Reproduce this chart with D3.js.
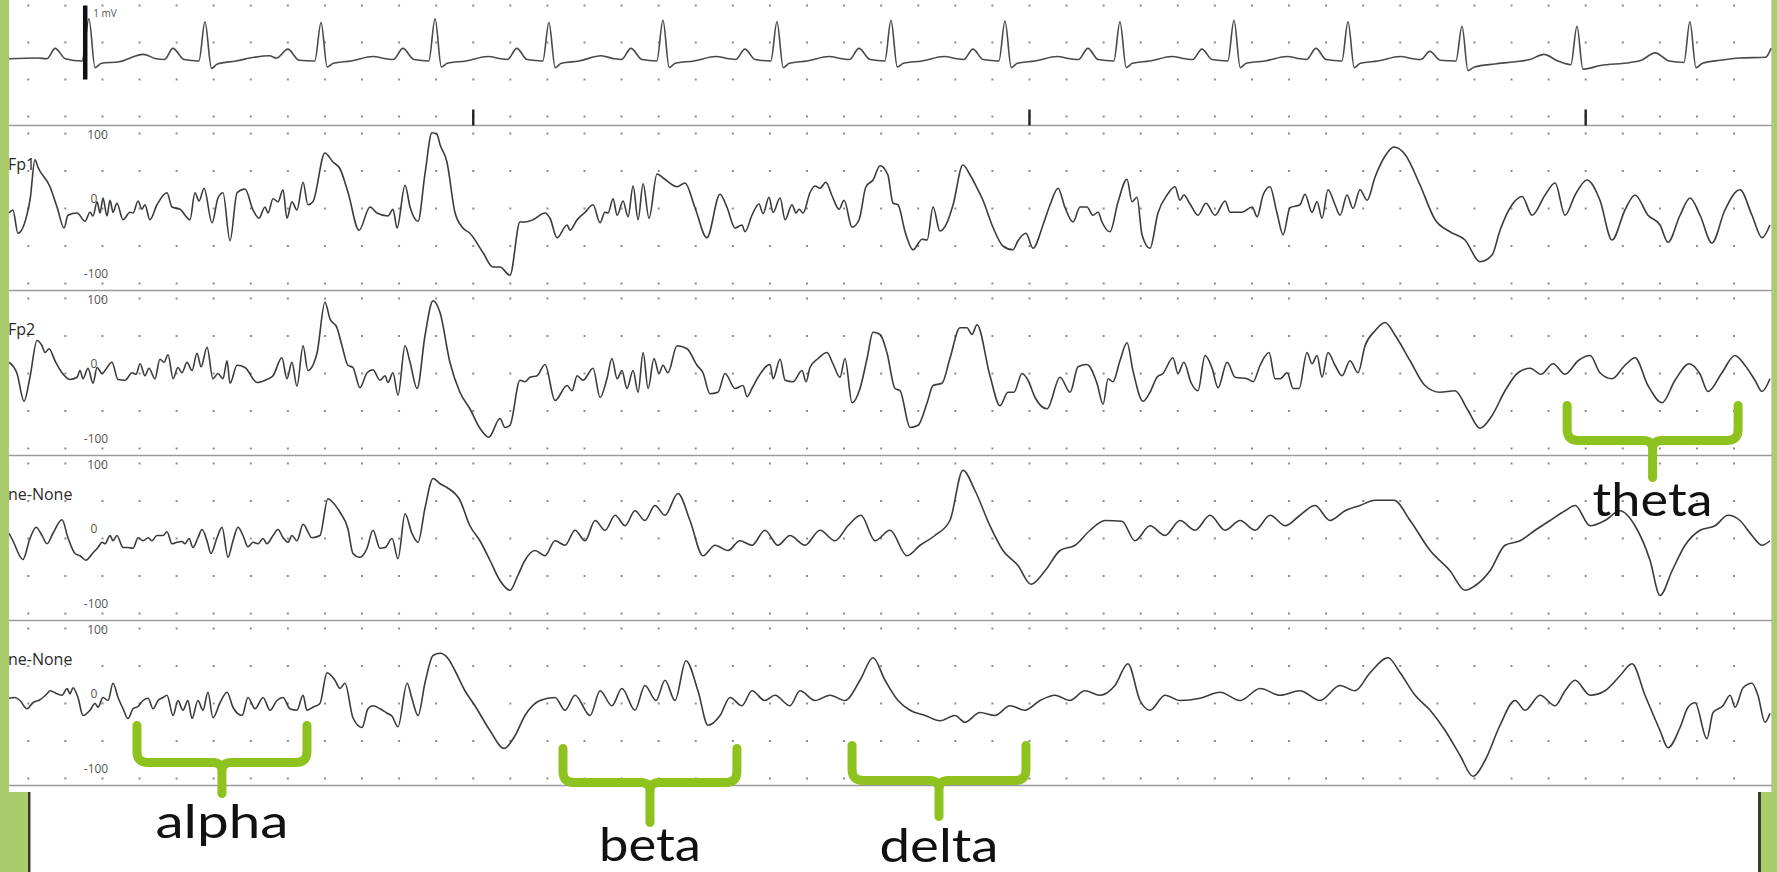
<!DOCTYPE html>
<html>
<head>
<meta charset="utf-8">
<script src="https://cdn.jsdelivr.net/npm/d3@7"></script>
<style>
  body { margin: 0; background: #fff; overflow: hidden; }
</style>
</head>
<body>
<svg id="chart" width="1777" height="872"></svg>
<script>
// ---- data (time in s, EEG in µV, ECG in mV) ----
const channelNames = ["Fp1", "Fp2", "ne-None", "ne-None"];
const scaleLabels = [100, 0, -100];
const markerTimes = [2.4, 5.4, 8.4];
const calibration = { t: 0.307, from: -0.25, to: 0.75, label: "1 mV" };

const ecgTrace = [
  [-0.104,0.03],[0.05,0.04],[0.10,0.03],[0.145,0.17],[0.20,0.03],[0.29,0.00],
  [0.327,0.57],[0.360,-0.09],[0.395,-0.03],[0.49,-0.01],[0.62,0.09],[0.69,0.03],[0.735,0.02],[0.78,0.17],[0.84,0.02],[0.92,0.00],
  [0.953,0.53],[0.988,-0.10],[1.02,-0.04],[1.12,0.00],[1.22,0.05],[1.30,0.07],[1.34,0.04],[1.40,0.16],[1.46,0.01],[1.545,0.00],
  [1.579,0.52],[1.612,-0.08],[1.645,-0.03],[1.74,0.00],[1.86,0.06],[1.93,0.03],[1.97,0.02],[2.02,0.17],[2.08,0.02],[2.16,0.00],
  [2.194,0.57],[2.228,-0.08],[2.26,-0.03],[2.36,0.00],[2.48,0.06],[2.55,0.03],[2.585,0.02],[2.635,0.17],[2.69,0.02],[2.775,0.00],
  [2.808,0.52],[2.842,-0.09],[2.875,-0.03],[2.97,0.00],[3.09,0.07],[3.16,0.03],[3.20,0.02],[3.25,0.17],[3.31,0.02],[3.39,0.00],
  [3.423,0.55],[3.457,-0.09],[3.49,-0.03],[3.59,0.00],[3.71,0.06],[3.78,0.03],[3.815,0.02],[3.865,0.16],[3.92,0.02],[4.005,0.00],
  [4.038,0.53],[4.072,-0.09],[4.105,-0.03],[4.20,0.00],[4.32,0.06],[4.39,0.03],[4.43,0.02],[4.48,0.17],[4.54,0.02],[4.62,0.00],
  [4.653,0.55],[4.687,-0.08],[4.72,-0.03],[4.82,0.00],[4.94,0.06],[5.01,0.03],[5.045,0.02],[5.095,0.16],[5.15,0.02],[5.235,0.00],
  [5.268,0.54],[5.302,-0.09],[5.335,-0.03],[5.43,0.00],[5.55,0.06],[5.62,0.03],[5.665,0.02],[5.715,0.17],[5.77,0.02],[5.855,0.00],
  [5.888,0.53],[5.922,-0.09],[5.955,-0.03],[6.05,0.00],[6.17,0.06],[6.24,0.03],[6.28,0.02],[6.33,0.16],[6.385,0.02],[6.47,0.00],
  [6.503,0.55],[6.537,-0.09],[6.57,-0.03],[6.67,0.00],[6.79,0.06],[6.86,0.03],[6.895,0.02],[6.945,0.17],[7.00,0.02],[7.085,0.00],
  [7.118,0.53],[7.152,-0.09],[7.185,-0.03],[7.28,0.00],[7.40,0.06],[7.47,0.03],[7.51,0.02],[7.56,0.13],[7.615,0.01],[7.70,0.00],
  [7.733,0.47],[7.765,-0.13],[7.80,-0.08],[7.91,-0.04],[8.02,-0.01],[8.10,0.02],[8.175,0.09],[8.25,0.00],[8.32,-0.05],
  [8.353,0.47],[8.385,-0.11],[8.48,-0.06],[8.64,-0.02],[8.70,0.01],[8.775,0.11],[8.85,0.00],[8.93,-0.02],
  [8.962,0.53],[8.995,-0.09],[9.03,-0.03],[9.125,0.01],[9.23,0.04],[9.37,0.05],[9.40,0.17]
];

const fp1Trace = [
  [-0.104,-6],[-0.083,-2],[-0.056,-33],[0.009,11],[0.036,65],[0.052,55],[0.117,29],[0.155,2],[0.193,-26],[0.214,-9],
  [0.263,-6],[0.306,-17],[0.333,-5],[0.349,-10],[0.371,9],[0.387,-6],[0.403,14],[0.424,-10],[0.441,11],[0.457,-5],
  [0.478,7],[0.511,-15],[0.549,-5],[0.565,-6],[0.592,10],[0.613,-1],[0.629,5],[0.656,-15],[0.694,5],[0.748,21],
  [0.775,2],[0.818,-1],[0.872,-15],[0.899,21],[0.921,10],[0.948,27],[0.991,-19],[1.023,14],[1.050,21],[1.088,-43],
  [1.126,21],[1.169,26],[1.212,-2],[1.244,-13],[1.277,2],[1.293,-6],[1.320,13],[1.347,9],[1.374,25],[1.395,-13],
  [1.422,9],[1.449,-2],[1.482,35],[1.508,5],[1.535,9],[1.600,74],[1.643,62],[1.681,53],[1.724,22],[1.784,-29],
  [1.843,2],[1.881,-6],[1.940,-10],[1.967,-1],[1.989,-26],[2.032,31],[2.059,2],[2.102,-17],[2.140,47],[2.177,101],
  [2.204,99],[2.221,85],[2.258,62],[2.301,-5],[2.344,-26],[2.382,-33],[2.453,-59],[2.506,-78],[2.544,-78],[2.598,-89],
  [2.652,-18],[2.679,-18],[2.722,-15],[2.787,-6],[2.814,-13],[2.852,-39],[2.906,-22],[2.922,-29],[2.960,-15],[3.003,-5],
  [3.046,5],[3.084,-19],[3.110,-5],[3.127,-6],[3.154,13],[3.176,-9],[3.208,10],[3.235,-11],[3.262,30],[3.289,-15],
  [3.316,33],[3.348,-13],[3.391,46],[3.423,41],[3.499,29],[3.542,34],[3.596,1],[3.660,-39],[3.731,19],[3.768,2],
  [3.812,-26],[3.849,-22],[3.866,-31],[3.903,-9],[3.941,6],[3.963,-7],[3.995,15],[4.017,-5],[4.055,14],[4.082,-15],
  [4.119,5],[4.141,-6],[4.157,-1],[4.179,-6],[4.216,21],[4.243,30],[4.270,27],[4.302,35],[4.335,17],[4.373,-1],
  [4.400,11],[4.443,-25],[4.481,-15],[4.518,29],[4.556,38],[4.594,57],[4.636,45],[4.664,7],[4.691,5],[4.729,-31],
  [4.772,-55],[4.821,-41],[4.848,-42],[4.880,2],[4.917,-30],[4.955,-19],[4.988,5],[5.041,58],[5.079,45],[5.122,25],
  [5.149,11],[5.203,-25],[5.257,-50],[5.311,-55],[5.338,-43],[5.381,-33],[5.419,-53],[5.473,-22],[5.511,5],[5.554,27],
  [5.592,1],[5.635,-18],[5.673,2],[5.710,2],[5.742,-9],[5.770,-5],[5.791,-18],[5.834,-31],[5.878,9],[5.926,39],
  [5.953,9],[5.980,15],[6.007,-35],[6.050,-53],[6.093,-6],[6.142,18],[6.185,29],[6.212,11],[6.233,18],[6.266,6],
  [6.309,-9],[6.352,7],[6.401,-9],[6.455,10],[6.482,-5],[6.546,-5],[6.601,2],[6.628,-11],[6.660,18],[6.697,29],
  [6.735,-6],[6.768,-35],[6.805,1],[6.859,5],[6.886,19],[6.924,-5],[6.951,9],[6.978,-13],[7.010,25],
  [7.048,5],[7.075,-9],[7.113,18],[7.145,0],[7.183,25],[7.221,11],[7.264,42],[7.318,70],[7.366,82],[7.426,72],
  [7.507,31],[7.588,-15],[7.668,-31],[7.749,-42],[7.830,-71],[7.895,-62],[7.938,-29],[8.003,5],[8.057,16],[8.111,-9],
  [8.181,18],[8.235,34],[8.289,-9],[8.343,18],[8.407,38],[8.477,11],[8.542,-42],[8.612,-2],[8.666,18],[8.736,-9],
  [8.801,-22],[8.844,-45],[8.909,-9],[8.963,14],[9.017,-9],[9.081,-46],[9.151,-2],[9.232,25],[9.297,-9],[9.351,-39],[9.394,-22]
];

const fp2Trace = [
  [-0.104,15],[-0.061,0],[-0.023,-37],[0.009,-5],[0.047,44],[0.074,37],[0.090,28],[0.112,33],[0.144,17],[0.182,1],
  [0.225,-8],[0.263,-5],[0.279,4],[0.295,-7],[0.322,7],[0.349,-13],[0.371,8],[0.398,0],[0.414,4],[0.451,15],
  [0.484,-8],[0.522,-9],[0.560,1],[0.581,-1],[0.603,13],[0.629,-3],[0.651,7],[0.683,-7],[0.710,19],[0.732,15],
  [0.754,25],[0.781,-7],[0.807,8],[0.829,1],[0.856,15],[0.883,4],[0.910,27],[0.932,9],[0.964,35],[0.996,-7],
  [1.023,0],[1.050,-7],[1.072,17],[1.088,-13],[1.126,11],[1.169,8],[1.234,-12],[1.287,-8],[1.320,-3],[1.368,21],
  [1.395,-7],[1.422,15],[1.449,-17],[1.482,37],[1.508,4],[1.557,27],[1.600,95],[1.627,73],[1.665,61],[1.692,37],
  [1.724,11],[1.751,8],[1.789,-19],[1.827,1],[1.859,5],[1.897,-9],[1.924,-3],[1.940,-12],[1.967,1],[1.994,-29],
  [2.032,37],[2.059,15],[2.097,-20],[2.140,51],[2.183,97],[2.221,81],[2.274,15],[2.328,-25],[2.382,-47],[2.436,-73],
  [2.484,-85],[2.544,-60],[2.571,-72],[2.598,-69],[2.652,-9],[2.679,-11],[2.706,-5],[2.744,-3],[2.787,12],[2.841,-36],
  [2.906,-16],[2.933,-23],[2.960,-3],[2.992,-9],[3.046,7],[3.084,-32],[3.121,-7],[3.148,20],[3.176,-7],[3.202,4],
  [3.229,-20],[3.262,4],[3.289,-25],[3.316,28],[3.343,-20],[3.375,20],[3.402,0],[3.423,11],[3.450,1],[3.499,37],
  [3.553,33],[3.607,11],[3.639,1],[3.677,-27],[3.720,-25],[3.758,0],[3.812,-20],[3.855,-16],[3.877,-31],[3.903,-20],
  [3.936,-5],[4.001,12],[4.017,-7],[4.055,19],[4.082,-9],[4.125,-11],[4.173,4],[4.195,-11],[4.216,8],[4.260,20],
  [4.308,28],[4.340,13],[4.378,-5],[4.405,20],[4.443,-39],[4.486,-20],[4.524,20],[4.556,55],[4.594,52],[4.631,28],
  [4.675,-20],[4.702,-23],[4.756,-72],[4.799,-69],[4.848,-39],[4.880,-16],[4.928,-13],[4.971,20],[5.025,61],[5.063,61],
  [5.090,52],[5.117,65],[5.187,-3],[5.241,-43],[5.284,-25],[5.316,-25],[5.360,0],[5.392,-9],[5.430,-32],[5.495,-47],
  [5.565,-5],[5.619,-25],[5.662,9],[5.710,12],[5.764,-13],[5.797,-41],[5.824,-7],[5.850,-11],[5.888,17],[5.926,41],
  [5.958,4],[6.012,-37],[6.050,-25],[6.088,-5],[6.120,0],[6.174,21],[6.201,0],[6.233,15],[6.271,-12],[6.309,-23],
  [6.347,24],[6.385,7],[6.417,-19],[6.466,15],[6.509,-5],[6.574,-7],[6.606,-11],[6.644,11],[6.692,28],[6.725,-7],
  [6.752,-7],[6.790,1],[6.822,-20],[6.854,-20],[6.897,28],[6.924,13],[6.951,24],[6.978,-5],[7.010,28],
  [7.048,11],[7.086,-3],[7.129,17],[7.172,1],[7.210,37],[7.264,57],[7.318,68],[7.372,51],[7.453,17],[7.533,-16],
  [7.614,-25],[7.695,-23],[7.765,-49],[7.830,-73],[7.895,-56],[7.965,-23],[8.035,1],[8.100,7],[8.159,-1],[8.224,13],
  [8.289,-1],[8.359,17],[8.424,24],[8.477,1],[8.542,-7],[8.612,11],[8.666,21],[8.736,-16],[8.812,-39],[8.882,-9],
  [8.958,13],[9.017,-1],[9.060,-24],[9.135,1],[9.205,24],[9.259,11],[9.313,-9],[9.351,-24],[9.394,-7]
];

const ch3Trace = [
  [-0.104,7],[-0.083,-3],[-0.029,-28],[0.009,0],[0.042,15],[0.074,4],[0.101,-7],[0.133,7],[0.182,25],[0.214,1],
  [0.252,-20],[0.279,-23],[0.311,-29],[0.349,-19],[0.376,-12],[0.398,-5],[0.414,-7],[0.441,4],[0.457,-3],[0.478,4],
  [0.511,-12],[0.538,-12],[0.565,-13],[0.592,1],[0.619,-3],[0.646,1],[0.667,-3],[0.694,4],[0.727,4],[0.748,9],
  [0.775,-7],[0.802,-5],[0.829,-4],[0.845,-7],[0.867,0],[0.888,-12],[0.915,1],[0.937,12],[0.964,-3],[0.985,-20],
  [1.018,1],[1.045,15],[1.077,-25],[1.104,-3],[1.131,15],[1.158,4],[1.185,-11],[1.212,-5],[1.239,-7],[1.266,0],
  [1.287,-7],[1.320,4],[1.347,12],[1.374,1],[1.401,-5],[1.422,4],[1.449,-3],[1.482,19],[1.530,1],[1.573,4],
  [1.616,53],[1.643,48],[1.681,35],[1.724,13],[1.751,-20],[1.789,-25],[1.827,-13],[1.859,11],[1.897,-13],[1.924,-12],
  [1.962,0],[1.994,-27],[2.032,33],[2.069,7],[2.102,-5],[2.140,41],[2.183,80],[2.221,73],[2.258,68],
  [2.328,51],[2.382,17],[2.436,-3],[2.490,-29],[2.544,-56],[2.598,-69],[2.641,-49],[2.679,-29],[2.733,-16],[2.787,-23],
  [2.841,-3],[2.895,-9],[2.949,11],[3.003,-3],[3.057,24],[3.111,11],[3.165,31],[3.219,17],[3.272,37],[3.326,24],
  [3.380,44],[3.434,31],[3.504,60],[3.569,24],[3.639,-23],[3.704,-9],[3.774,-16],[3.838,-3],[3.903,-9],[3.973,11],
  [4.043,-9],[4.108,4],[4.189,-9],[4.270,11],[4.351,-3],[4.421,17],[4.491,31],[4.567,-3],[4.648,11],[4.739,-23],
  [4.810,-9],[4.890,4],[4.971,24],[5.041,91],[5.106,64],[5.187,17],[5.257,-16],[5.338,-36],[5.408,-61],[5.484,-43],
  [5.565,-16],[5.646,-9],[5.727,11],[5.808,24],[5.899,23],[5.969,-3],[6.050,17],[6.131,4],[6.212,24],[6.293,11],
  [6.374,31],[6.455,11],[6.536,24],[6.617,11],[6.698,31],[6.779,17],[6.859,31],[6.940,44],[7.021,24],[7.102,37],
  [7.183,44],[7.264,51],[7.366,51],[7.453,24],[7.561,-16],[7.668,-43],[7.749,-69],[7.803,-63],[7.884,-43],[7.965,-9],
  [8.046,-3],[8.127,11],[8.208,24],[8.289,37],[8.343,44],[8.424,17],[8.504,24],[8.585,37],[8.666,17],[8.747,-29],
  [8.801,-76],[8.866,-43],[8.936,-9],[9.017,11],[9.098,17],[9.168,31],[9.232,24],[9.297,4],[9.351,-9],[9.394,-3]
];

const ch4Trace = [
  [-0.104,7],[-0.072,8],[-0.045,4],[-0.007,-7],[0.025,1],[0.063,5],[0.101,13],[0.117,17],[0.155,13],[0.182,11],
  [0.209,20],[0.225,13],[0.241,21],[0.268,8],[0.295,-16],[0.333,-9],[0.360,0],[0.376,-5],[0.403,8],[0.430,4],
  [0.457,27],[0.484,8],[0.511,-7],[0.538,-20],[0.565,-7],[0.592,-4],[0.619,4],[0.646,7],[0.673,-7],[0.700,4],
  [0.727,8],[0.748,11],[0.781,-16],[0.807,4],[0.834,-9],[0.861,4],[0.883,-20],[0.915,4],[0.942,-9],[0.969,15],
  [0.996,-19],[1.034,1],[1.072,15],[1.104,-5],[1.153,-16],[1.185,8],[1.223,-7],[1.266,8],[1.304,-9],[1.341,4],
  [1.374,8],[1.411,-7],[1.449,-9],[1.482,11],[1.503,-9],[1.535,-5],[1.573,0],[1.611,41],[1.654,31],[1.681,20],
  [1.708,27],[1.751,-19],[1.800,-32],[1.832,-7],[1.859,-3],[1.897,-7],[1.935,-13],[1.962,-17],[1.994,-31],[2.043,27],
  [2.069,7],[2.102,-16],[2.140,28],[2.183,64],[2.221,67],[2.264,60],
  [2.301,44],[2.355,17],[2.409,-3],[2.490,-36],[2.566,-60],[2.625,-43],[2.679,-16],[2.760,4],[2.841,8],[2.895,-9],
  [2.949,11],[3.030,-16],[3.084,17],[3.148,-3],[3.202,20],[3.272,-9],[3.326,24],[3.386,4],[3.434,31],[3.488,4],
  [3.547,57],[3.612,17],[3.666,-29],[3.731,-16],[3.785,8],[3.849,-3],[3.903,17],[3.973,4],[4.027,11],[4.108,-3],
  [4.162,17],[4.243,4],[4.324,11],[4.405,4],[4.486,31],[4.556,61],[4.621,31],[4.691,4],[4.756,-9],[4.837,-16],
  [4.918,-23],[4.998,-16],[5.052,-25],[5.133,-12],[5.214,-16],[5.295,-3],[5.376,-9],[5.457,4],[5.538,11],[5.618,4],
  [5.699,17],[5.780,11],[5.861,24],[5.931,53],[5.996,4],[6.050,-9],[6.131,11],[6.212,4],[6.320,7],[6.428,15],
  [6.536,4],[6.644,20],[6.752,11],[6.859,17],[6.967,4],[7.075,24],[7.156,17],[7.237,41],[7.334,61],[7.399,41],
  [7.480,11],[7.561,-9],[7.642,-36],[7.722,-69],[7.792,-97],[7.857,-76],[7.938,-29],[8.019,4],[8.073,-9],[8.154,11],
  [8.235,-3],[8.289,17],[8.343,31],[8.424,11],[8.504,17],[8.585,37],[8.650,53],[8.720,11],[8.801,-36],[8.844,-59],
  [8.909,-32],[8.952,-5],[8.990,1],[9.054,-47],[9.087,-12],[9.141,-3],[9.179,11],[9.206,-5],[9.249,21],[9.297,27],
  [9.329,11],[9.367,-25],[9.394,-13]
];

const eegTraces = [fp1Trace, fp2Trace, ch3Trace, ch4Trace];

// frequency bands marked under the traces: time range and channel index
const bands = [
  { name: "alpha", t0: 0.586, t1: 1.503, channel: 3 },
  { name: "beta",  t0: 2.884, t1: 3.822, channel: 3 },
  { name: "delta", t0: 4.443, t1: 5.381, channel: 3 },
  { name: "theta", t0: 8.300, t1: 9.222, channel: 1 }
];

// ---- layout ----
const W = 1777, H = 872;
const plotL = 9, plotR = 1772, plotB = 792;
const eegTop0 = 125.5, panelH = 165;
const green = "#a9cd6c", braceGreen = "#8dc21f", ink = "#3b3b3b";

// per band: brace top / bar / stem end / label baseline (offsets from channel top), label width
const braceLayout = {
  alpha: { top: 105, bar: 142, stem: 173, base: 217, width: 133 },
  beta:  { top: 128, bar: 162, stem: 202, base: 240, width: 102 },
  delta: { top: 125, bar: 160, stem: 196, base: 241, width: 119 },
  theta: { top: 115, bar: 150, stem: 187, base: 225, width: 120 }
};

const svg = d3.select("#chart");

const x = d3.scaleLinear().domain([0, 9.2]).range([28.3, 1734]);
const yEcg = d3.scaleLinear().domain([-0.75, 0.75]).range([116.5, 5.5]);
const panelTop = i => eegTop0 + panelH * i;
const yEeg = eegTraces.map((_, i) =>
  d3.scaleLinear().domain([-100, 100]).range([panelTop(i) + 158, panelTop(i) + 8]));

// background & frame
svg.append("rect").attr("width", W).attr("height", H).attr("fill", "#fff");
svg.append("rect").attr("x", 0).attr("y", 0).attr("width", plotL).attr("height", plotB).attr("fill", green);
svg.append("rect").attr("x", plotR).attr("y", 0).attr("width", W - plotR).attr("height", plotB).attr("fill", green);
svg.append("rect").attr("x", 0).attr("y", plotB).attr("width", 28).attr("height", H - plotB).attr("fill", green);
svg.append("rect").attr("x", 28).attr("y", plotB).attr("width", 2.5).attr("height", H - plotB).attr("fill", "#3a3d2e");
svg.append("rect").attr("x", 1761).attr("y", plotB).attr("width", W - 1761).attr("height", H - plotB).attr("fill", green);
svg.append("rect").attr("x", 1758).attr("y", plotB).attr("width", 3).attr("height", H - plotB).attr("fill", "#3a3d2e");
svg.append("line").attr("x1", plotR - 0.5).attr("x2", plotR - 0.5).attr("y1", 0).attr("y2", plotB)
  .attr("stroke", "#cfd8c4").attr("stroke-width", 1);

svg.append("clipPath").attr("id", "plotClip")
  .append("rect").attr("x", plotL).attr("y", 0).attr("width", plotR - plotL).attr("height", plotB);

const plot = svg.append("g").attr("clip-path", "url(#plotClip)");

// dot grid
const gridTimes = d3.range(0, 9.2001, 0.2);
const dotRows = [];
[0.75, 0.25, -0.25, -0.75].forEach(v => dotRows.push(yEcg(v)));
yEeg.forEach(s => [100, 50, 0, -50, -100].forEach(v => dotRows.push(s(v))));
const dots = [];
dotRows.forEach(yy => gridTimes.forEach(t => dots.push([x(t), yy])));
plot.append("g").selectAll("rect").data(dots).join("rect")
  .attr("x", d => d[0] - 1).attr("y", d => d[1] - 1)
  .attr("width", 2).attr("height", 2).attr("fill", "#8c8c8c");

// panel separators
plot.append("g").selectAll("line").data(d3.range(5)).join("line")
  .attr("x1", plotL).attr("x2", plotR)
  .attr("y1", i => panelTop(i)).attr("y2", i => panelTop(i))
  .attr("stroke", "#9a9a9a").attr("stroke-width", 1.4);

// traces
const ecgLine = d3.line().x(d => x(d[0])).y(d => yEcg(d[1])).curve(d3.curveMonotoneX);
plot.append("path").datum(ecgTrace).attr("d", ecgLine)
  .attr("fill", "none").attr("stroke", "#4a4a4a").attr("stroke-width", 1.6);

eegTraces.forEach((trace, i) => {
  const line = d3.line().x(d => x(d[0])).y(d => yEeg[i](d[1])).curve(d3.curveMonotoneX);
  plot.append("path").datum(trace).attr("d", line)
    .attr("fill", "none").attr("stroke", ink).attr("stroke-width", 1.6)
    .attr("stroke-linejoin", "round");
});

// time markers under the ECG
plot.append("g").selectAll("line").data(markerTimes).join("line")
  .attr("x1", d => x(d)).attr("x2", d => x(d))
  .attr("y1", panelTop(0) - 16).attr("y2", panelTop(0))
  .attr("stroke", "#222").attr("stroke-width", 2.4);

// ECG calibration bar
plot.append("line")
  .attr("x1", x(calibration.t)).attr("x2", x(calibration.t))
  .attr("y1", yEcg(calibration.from)).attr("y2", yEcg(calibration.to))
  .attr("stroke", "#111").attr("stroke-width", 4.5);
plot.append("text").attr("x", x(calibration.t) + 8).attr("y", 17)
  .attr("font-family", "Open Sans, sans-serif").attr("font-size", 10).attr("fill", "#555")
  .text(calibration.label);

// scale labels and channel names
const labelX = { "100": 97.5, "0": 94, "-100": 96 };
yEeg.forEach((s, i) => {
  const g = plot.append("g").attr("font-family", "Open Sans, sans-serif")
    .attr("font-size", 12).attr("fill", "#555").attr("text-anchor", "middle");
  scaleLabels.forEach(v => {
    g.append("text").attr("x", labelX[v])
      .attr("y", s(v) + (v === 100 ? 1 : -10))
      .attr("dominant-baseline", "central").text(v);
  });
  plot.append("text").attr("x", 8).attr("y", panelTop(i) + 44)
    .attr("font-family", "Open Sans, sans-serif").attr("font-size", 16).attr("fill", "#2a2a2a")
    .text(channelNames[i]);
});

// band braces
bands.forEach(b => {
  const L = braceLayout[b.name];
  const top = panelTop(b.channel);
  const x0 = x(b.t0), x1 = x(b.t1), xc = (x0 + x1) / 2;
  const yT = top + L.top, yB = top + L.bar, yS = top + L.stem;
  const r = 11, r2 = 9;
  const p = d3.path();
  p.moveTo(x0, yT);
  p.lineTo(x0, yB - r);
  p.quadraticCurveTo(x0, yB, x0 + r, yB);
  p.lineTo(xc - r2, yB);
  p.quadraticCurveTo(xc, yB, xc, yB + r2);
  p.lineTo(xc, yS);
  p.moveTo(xc, yB + r2);
  p.quadraticCurveTo(xc, yB, xc + r2, yB);
  p.lineTo(x1 - r, yB);
  p.quadraticCurveTo(x1, yB, x1, yB - r);
  p.lineTo(x1, yT);
  svg.append("path").attr("d", p.toString())
    .attr("fill", "none").attr("stroke", braceGreen).attr("stroke-width", 9)
    .attr("stroke-linecap", "round").attr("stroke-linejoin", "round");
  svg.append("text").attr("x", xc).attr("y", top + L.base)
    .attr("text-anchor", "middle")
    .attr("font-family", "Lato, sans-serif").attr("font-weight", 400)
    .attr("font-size", 47).attr("fill", "#111")
    .attr("textLength", L.width).attr("lengthAdjust", "spacingAndGlyphs")
    .text(b.name);
});
</script>
</body>
</html>
